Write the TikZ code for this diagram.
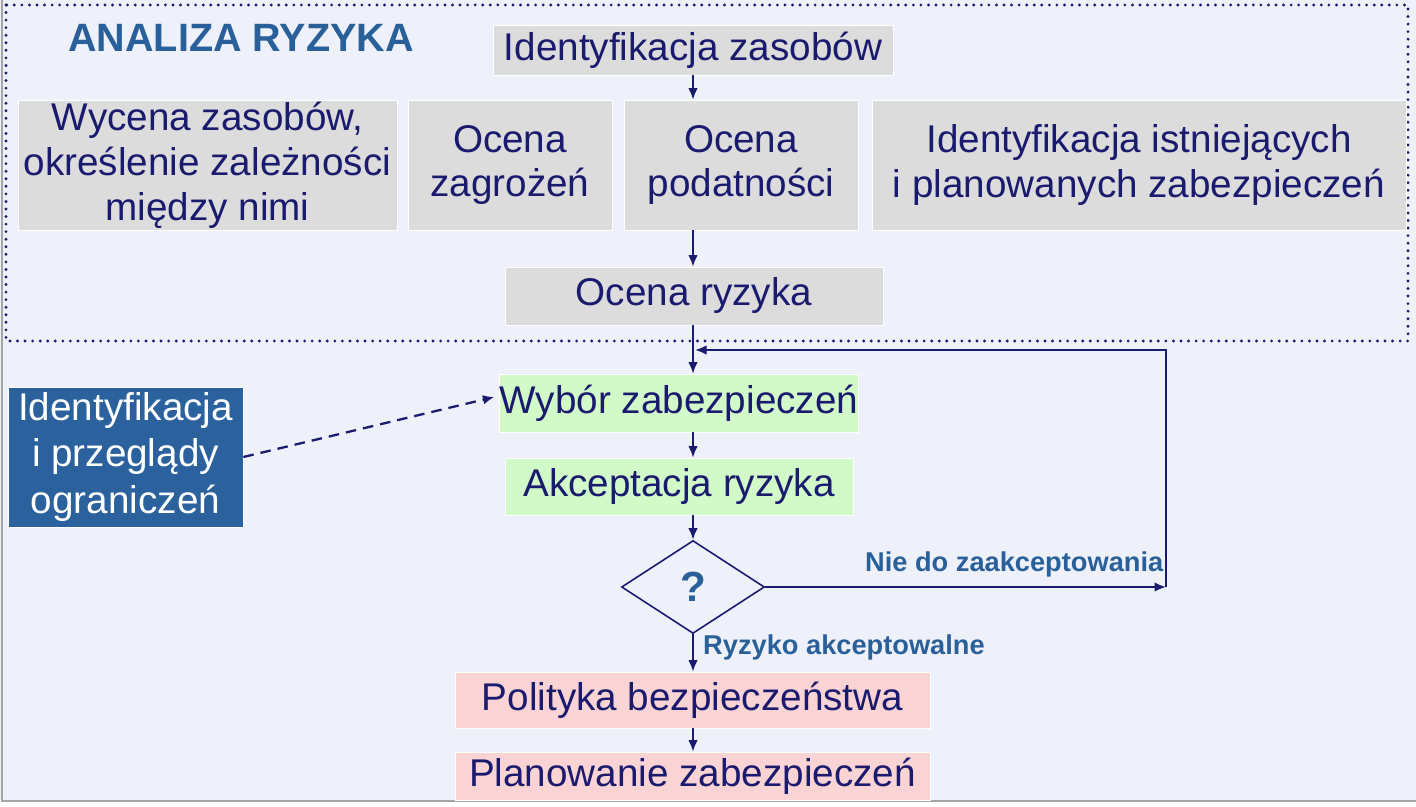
\documentclass[tikz,border=0pt]{standalone}
\usepackage{fontspec}
\setmainfont{Liberation Sans}
\usepackage{xcolor}
\usetikzlibrary{shapes.geometric, arrows.meta, positioning, calc}

\definecolor{pagebg}{RGB}{238,241,249}
\definecolor{inkblue}{RGB}{26,26,110}
\definecolor{steel}{RGB}{42,96,154}
\definecolor{boxgrey}{RGB}{220,220,220}
\definecolor{boxgreen}{RGB}{210,250,200}
\definecolor{boxpink}{RGB}{250,212,212}
\definecolor{boxblue}{RGB}{43,98,158}

\begin{document}
\begin{tikzpicture}[x=0.02cm, y=-0.02cm,
    box/.style={rectangle, inner sep=0pt, align=center, draw=white, thin, text=inkblue, font=\fontsize{22}{25.5}\selectfont},
    greybox/.style={box, fill=boxgrey},
    greenbox/.style={box, fill=boxgreen},
    pinkbox/.style={box, fill=boxpink},
    bluebox/.style={box, fill=boxblue, text=white, font=\fontsize{22}{26.5}\selectfont},
    decision/.style={diamond, draw=inkblue, line width=0.9pt, inner sep=0pt, minimum width=2.86cm, minimum height=1.86cm, text=steel, font=\fontsize{24}{26}\selectfont\bfseries},
    tag/.style={text=steel, font=\fontsize{15.5}{17}\selectfont\bfseries, inner sep=1pt},
    arrow/.style={-{Latex[length=2.3mm, width=1.9mm]}, line width=1.1pt, inkblue}
  ]
  \useasboundingbox (0,0) rectangle (1416,807);
  \fill[white] (0,0) rectangle (1416,807);
  \fill[pagebg] (0,0) rectangle (1416,800);
  \draw[gray!70, line width=1pt] (2,0) -- (2,801) -- (1416,801);

  % --- ANALIZA RYZYKA ---
  \draw[inkblue, line width=1.8pt, line cap=round, dash pattern=on 0pt off 4.3pt] (6,5) rectangle (1408,341);
  \node[text=steel, font=\fontsize{22.5}{26}\selectfont\bfseries] (title) at (241,38) {ANALIZA RYZYKA};

  \node[greybox, minimum width=8cm, minimum height=1cm] (zasoby) at (693,50) {Identyfikacja zasobów};
  \node[greybox, minimum width=7.58cm, minimum height=2.6cm] (wycena) at (207.5,165) {Wycena zasobów,\\określenie zależności\\między nimi};
  \node[greybox, minimum width=4.08cm, minimum height=2.6cm] (zagrozenia) at (510,165) {Ocena\\zagrożeń};
  \node[greybox, minimum width=4.68cm, minimum height=2.6cm] (podatnosci) at (741,165) {Ocena\\podatności};
  \node[greybox, minimum width=10.68cm, minimum height=2.6cm] (istniejace) at (1139,165) {Identyfikacja istniejących\\i planowanych zabezpieczeń};
  \node[greybox, minimum width=7.56cm, minimum height=1.16cm] (ryzyko) at (694,296) {Ocena ryzyka};

  \coordinate (spine) at (693,0);
  \draw[arrow] (zasoby.south -| spine) -- (podatnosci.north -| spine);
  \draw[arrow] (podatnosci.south -| spine) -- (ryzyko.north -| spine);

  % --- wybor i akceptacja ---
  \node[greenbox, minimum width=6.96cm, minimum height=1.16cm] (wybor) at (679,403) {Wybór zabezpieczeń};
  \node[greenbox, minimum width=6.96cm, minimum height=1.14cm] (akceptacja) at (679,486.5) {Akceptacja ryzyka};
  \node[bluebox, minimum width=4.7cm, minimum height=2.8cm] (ograniczenia) at (125.5,457) {Identyfikacja\\i przeglądy\\ograniczeń};
  \node[decision] (pytanie) at (693,587) {?};

  \draw[arrow] (ryzyko.south -| spine) -- (wybor.north -| spine);
  \draw[arrow] (wybor.south -| spine) -- (akceptacja.north -| spine);
  \draw[arrow] (akceptacja.south -| spine) -- (pytanie.north);
  \draw[arrow, line width=1.3pt, dash pattern=on 6pt off 4pt] (ograniczenia.east) -- ($(wybor.west)+(-5,-6)$);

  % petla
  \coordinate (zwrot) at (1166,587);
  \coordinate (powrot) at (695,350);
  \draw[arrow] (pytanie.east) -- node[tag, pos=1, anchor=south east, yshift=1.5mm] {Nie do zaakceptowania} (zwrot);
  \draw[arrow] (zwrot) |- (powrot);

  % --- polityka ---
  \node[pinkbox, minimum width=9.5cm, minimum height=1.12cm] (polityka) at (692.5,700) {Polityka bezpieczeństwa};
  \node[pinkbox, minimum width=9.5cm, minimum height=0.96cm] (planowanie) at (692.5,776) {Planowanie zabezpieczeń};

  \draw[arrow] (pytanie.south) -- node[tag, pos=0.36, anchor=west, xshift=1.5mm] {Ryzyko akceptowalne} (polityka.north -| spine);
  \draw[arrow] (polityka.south -| spine) -- (planowanie.north -| spine);
\end{tikzpicture}
\end{document}
